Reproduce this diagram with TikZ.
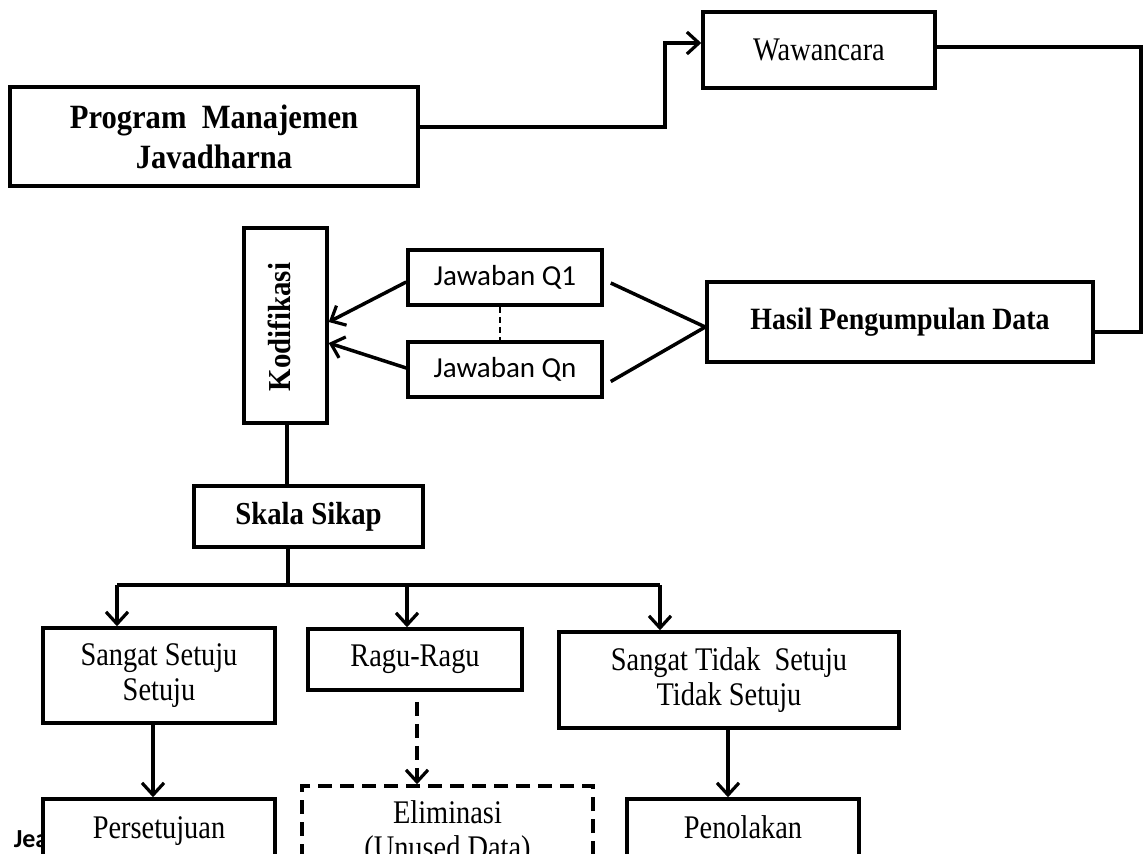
\documentclass[tikz,border=0pt]{standalone}
\usepackage{fontspec}
\setmainfont{Liberation Serif}
\newfontfamily\condserif[FakeStretch=0.86]{Liberation Serif}
\newfontfamily\condbold[FakeStretch=0.9]{Liberation Serif Bold}
\newfontfamily\calfont{Carlito}
\usetikzlibrary{arrows.meta}
\begin{document}
\begin{tikzpicture}[x=1pt,y=-1pt,line width=3.5pt,
  box/.style={draw,line width=3.5pt,fill=white,inner sep=0pt,align=center},
  txt/.style={font=\condserif\fontsize{33}{35}\selectfont},
  btxt/.style={font=\condbold\fontsize{32}{36}\selectfont},
  ctxt/.style={font=\calfont\fontsize{29}{34}\selectfont},
  arr/.style={-{Straight Barb[length=12pt,width=22pt,line width=3.2pt]}},
  dsh/.style={dash pattern=on 14pt off 8pt}]
\useasboundingbox (0,0) rectangle (1144,854);
\clip (0,0) rectangle (1144,854);
% top row
\node[box,minimum width=408pt,minimum height=99pt,font=\condbold\fontsize{34}{40}\selectfont] (prog) at (214,136.5) {Program \ Manajemen\\Javadharna};
\node[box,txt,minimum width=232pt,minimum height=76pt] (waw) at (819,50) {Wawancara};
\node[box,font=\condbold\fontsize{31}{36}\selectfont,minimum width=386pt,minimum height=80pt] (hasil) at (900,322) {Hasil Pengumpulan Data};
% middle
\node[box,minimum width=83pt,minimum height=195pt] (kod) at (285.5,325.5) {};
\node[btxt,rotate=90,inner sep=0pt] (kodt) at (279,327) {Kodifikasi};
\node[box,ctxt,minimum width=194pt,minimum height=55pt] (q1) at (505,277.5) {Jawaban Q1};
\node[box,ctxt,minimum width=194pt,minimum height=55pt] (qn) at (505,369.5) {Jawaban Qn};
\node[box,btxt,minimum width=229pt,minimum height=61pt] (skala) at (308.5,516.5) {Skala Sikap};
% categories
\node[box,txt,minimum width=232pt,minimum height=95pt] (ss) at (159,675.5) {Sangat Setuju\\Setuju};
\node[box,txt,minimum width=214pt,minimum height=61pt] (ragu) at (415,659.5) {Ragu-Ragu};
\node[box,txt,minimum width=340pt,minimum height=96pt] (st) at (729,680) {Sangat Tidak \ Setuju\\Tidak Setuju};
% bottom row (cut off)
\node[font=\calfont\bfseries\fontsize{26}{30}\selectfont,anchor=base west,inner sep=0pt] (jea) at (12,847) {Jea};
\node[box,minimum width=232pt,minimum height=120pt] (pers) at (159,859) {};
\node[txt,anchor=base,inner sep=0pt] (perst) at (159,838) {Persetujuan};
\node[box,dsh,minimum width=291pt,minimum height=130pt] (elim) at (447.5,851) {};
\node[txt,anchor=base,inner sep=0pt] (elimt) at (447.5,823) {Eliminasi};
\node[txt,anchor=base,inner sep=0pt] (elimt2) at (447.5,858) {(Unused Data)};
\node[box,minimum width=232pt,minimum height=120pt] (pen) at (743,859) {};
\node[txt,anchor=base,inner sep=0pt] (pent) at (743,838) {Penolakan};
% coordinates
\coordinate (b1) at (665,43);
\coordinate (b2) at (1141,47);
\coordinate (b0) at (288,585);
\coordinate (bl) at (117,585);
\coordinate (bm) at (407,585);
\coordinate (br) at (660,585);
\coordinate (c1) at (153,0);
\coordinate (c2) at (417,0);
\coordinate (c3) at (728,0);
% connectors
\draw[arr] ([yshift=9.5pt]prog.east) -| (b1) -- ([yshift=7pt]waw.west);
\draw ([yshift=-10pt]hasil.east) -| (b2) -- ([yshift=3pt]waw.east);
\draw ([xshift=7pt,yshift=-5.5pt]q1.east) -- ([yshift=-5pt]hasil.west);
\draw ([xshift=7pt,yshift=-12pt]qn.east) -- ([yshift=-5pt]hasil.west);
\draw[arr] ([yshift=-4.5pt]q1.west) -- ([yshift=3.5pt]kod.east);
\draw[arr] ([yshift=1.5pt]qn.west) -- ([yshift=-17.5pt]kod.east);
\draw[line width=2pt,dash pattern=on 6pt off 4pt] ([xshift=-5pt]q1.south) -- ([xshift=-5pt]qn.north);
\draw ([xshift=1.5pt]kod.south) -- ([xshift=1.5pt]kod.south |- skala.north);
\draw (skala.south -| b0) -- (b0);
\draw (bl) -- (br);
\draw[arr] (bl) -- (bl |- ss.north);
\draw[arr] (bm) -- (bm |- ragu.north);
\draw[arr] (br) -- (br |- st.north);
\draw[arr] (ss.south -| c1) -- (pers.north -| c1);
\draw[arr,dsh] ([yshift=-10pt]ragu.south -| c2) -- (elim.north -| c2);
\draw[arr] (st.south -| c3) -- (pen.north -| c3);
\end{tikzpicture}
\end{document}
